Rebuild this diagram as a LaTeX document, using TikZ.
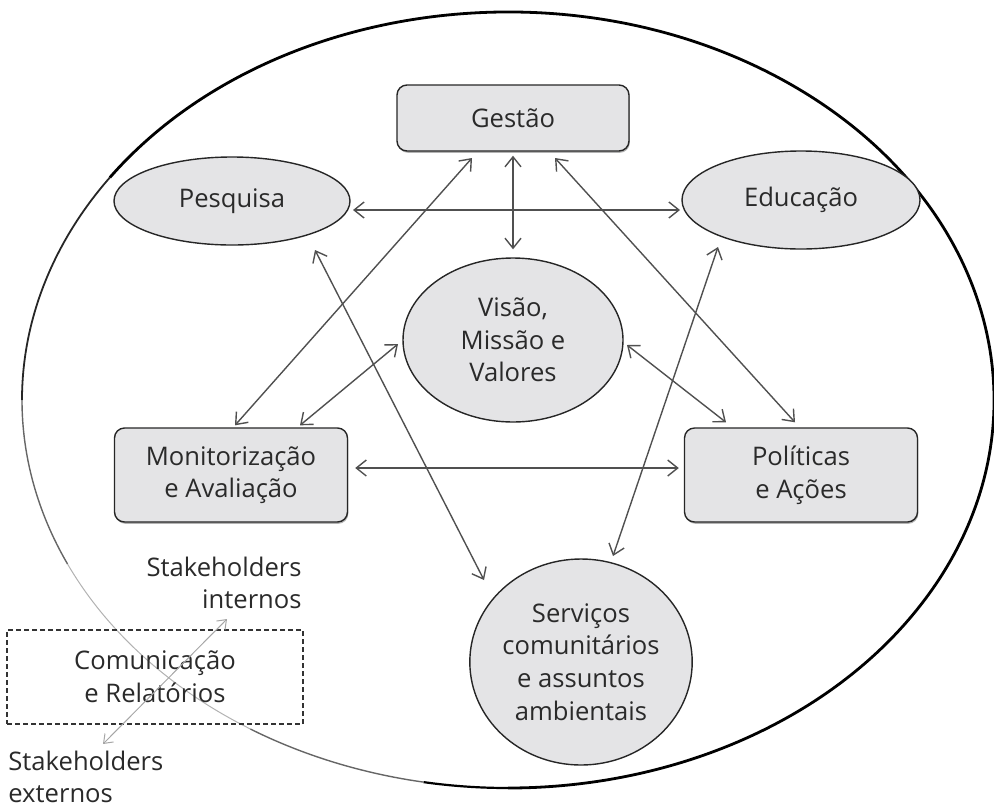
\documentclass[tikz,border=0pt]{standalone}
\usepackage{fontspec}
\setmainfont{Open Sans}
\usetikzlibrary{shapes.geometric,arrows.meta,calc,shadows}
\definecolor{boxgray}{HTML}{E4E4E6}
\definecolor{txt}{HTML}{2A2A2A}
\definecolor{arr}{HTML}{505050}
\newcommand\mytext{\fontsize{12.8}{16.3}\selectfont}
\begin{document}
\begin{tikzpicture}[x=0.5pt,y=-0.5pt,
  box/.style={draw=black!85, line width=0.7pt, fill=boxgray, rounded corners=5pt,
    minimum width=116.5pt, minimum height=47pt, align=center, text=txt, font=\mytext,
    inner sep=0pt, drop shadow={shadow xshift=0.4pt, shadow yshift=-0.9pt, opacity=0.6}},
  oval/.style={ellipse, draw=black!85, line width=0.7pt, fill=boxgray, align=center,
    text=txt, font=\mytext, inner sep=0pt},
  conn/.style={draw=arr, line width=0.7pt,
    {Straight Barb[length=5pt,width=8pt]}-{Straight Barb[length=5pt,width=8pt]}},
  faint/.style={draw=black!35, line width=0.5pt,
    {Straight Barb[length=4pt,width=6pt]}-{Straight Barb[length=4pt,width=6pt]}},
  plain/.style={text=txt, font=\mytext, inner sep=0pt}
]
\useasboundingbox (0,0) rectangle (994,809);

% outer ellipse drawn in pieces: thick on the right, fading on the lower left
\coordinate (ec) at (508,400);
\draw[black, line width=1.4pt] ($(ec)+(215:486 and 388)$) arc[start angle=215, end angle=450, x radius=486, y radius=388];
\draw[black, line width=1.1pt] ($(ec)+(90:486 and 388)$) arc[start angle=90, end angle=100, x radius=486, y radius=388];
\draw[black!85, line width=0.9pt] ($(ec)+(180:486 and 388)$) arc[start angle=180, end angle=215, x radius=486, y radius=388];
\draw[black!60, line width=0.7pt] ($(ec)+(155:486 and 388)$) arc[start angle=155, end angle=180, x radius=486, y radius=388];
\draw[black!30, line width=0.5pt] ($(ec)+(122:486 and 388)$) arc[start angle=122, end angle=155, x radius=486, y radius=388];
\draw[black!60, line width=0.7pt] ($(ec)+(100:486 and 388)$) arc[start angle=100, end angle=122, x radius=486, y radius=388];

% nodes
\node[box, minimum width=116pt, minimum height=33pt] (gestao) at (513,118) {Gestão};
\node[oval, minimum width=118pt, minimum height=44pt] (pesq) at (232,201) {Pesquisa};
\node[oval, minimum width=119pt, minimum height=49pt] (educ) at (801,200) {Educação};
\node[oval, minimum width=110pt, minimum height=82pt] (visao) at (513,340) {Visão,\\Missão e\\Valores};
\node[box] (mon) at (231,475) {Monitorização\\e Avaliação};
\node[box] (pol) at (801,475) {Políticas\\e Ações};
\node[oval, minimum width=109pt, minimum height=103pt] (serv) at (581,662) {Serviços\\comunitários\\e assuntos\\ambientais};

\node[draw=black!80, dashed, dash pattern=on 2.5pt off 1.5pt, line width=0.6pt,
  minimum width=148pt, minimum height=47pt, align=center, text=txt, font=\mytext, inner sep=0pt]
  (com) at (155,677) {Comunicação\\e Relatórios};
\node[plain, align=right, anchor=east] (sint) at (302,583) {Stakeholders\\internos};
\node[plain, align=left, anchor=west] (sext) at (8,777) {Stakeholders\\externos};

% connectors
\draw[conn] ($(pesq.center)+(121,9)$) -- ($(educ.center)+(-121,10)$);
\draw[conn] ($(gestao.south)+(0,4)$) -- ($(visao.north)+(0,-8)$);
\draw[conn] ($(mon.north)+(4,-2)$) -- ($(gestao.center)+(-41,40)$);
\draw[conn] ($(mon.north)+(69,-2)$) -- ($(visao.center)+(-115,4)$);
\draw[conn] ($(gestao.center)+(42,40)$) -- ($(pol.north)+(-6,-5)$);
\draw[conn] ($(visao.center)+(114,5)$) -- ($(pol.north)+(-75,-5)$);
\draw[conn] ($(mon.east)+(7,-7)$) -- ($(pol.west)+(-5,-7)$);
\draw[conn] ($(pesq.center)+(83,49)$) -- ($(serv.center)+(-97,-82)$);
\draw[conn] ($(educ.center)+(-83,47)$) -- ($(serv.center)+(32,-106)$);

% communication arrow
\coordinate (gi) at (227,619);
\coordinate (ge) at (103,744);
\draw[faint] (ge) -- (gi);
\end{tikzpicture}
\end{document}
